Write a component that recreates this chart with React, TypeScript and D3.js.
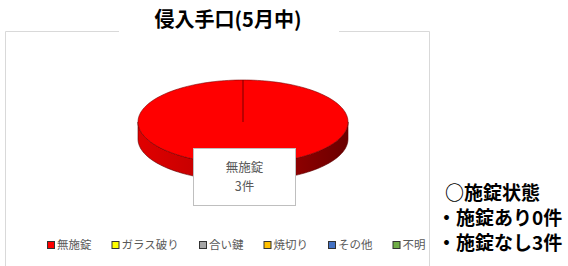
import * as d3 from "d3";
import { useEffect, useRef } from "react";

const categories = ["無施錠", "ガラス破り", "合い鍵", "焼切り", "その他", "不明"];
const counts = [3, 0, 0, 0, 0, 0];
const colors = ["#ff0000", "#ffff00", "#a6a6a6", "#ffc000", "#4472c4", "#70ad47"];
const title = "侵入手口(5月中)";
const lockHead = "○施錠状態";
const lockLines = ["施錠あり0件", "施錠なし3件"];

export default function App() {
  const ref = useRef<SVGSVGElement>(null);

  useEffect(() => {
    const W = 568, H = 266;
    const svg = d3.select(ref.current);
    svg.selectAll("*").remove();
    svg.attr("width", W).attr("height", H);

    const font = "'Noto Sans CJK JP', 'Noto Sans', sans-serif";

    // frame with a gap behind the title
    const frame = svg.append("g").attr("stroke", "#d9d9d9").attr("fill", "none");
    frame.append("path").attr("d", "M119,31.5 H5.5 V270");
    frame.append("path").attr("d", "M339,31.5 H429.5 V270");

    svg.append("text")
      .attr("x", 228).attr("y", 27)
      .attr("text-anchor", "middle")
      .attr("font-family", font).attr("font-weight", "bold").attr("font-size", 20)
      .attr("fill", "#000")
      .text(title);

    const color = d3.scaleOrdinal<string, string>().domain(categories).range(colors);

    // 3D pie
    const cx = 243, cy = 122, rx = 105, ry = 42, depth = 17;
    const pt = (a: number, dy = 0) => [cx + rx * Math.sin(a), cy - ry * Math.cos(a) + dy];
    const pie = d3.pie<number>().sort(null).value(d => d);
    const arcs = pie(counts).filter(d => d.value > 0);

    const defs = svg.append("defs");
    const grad = defs.append("linearGradient").attr("id", "side")
      .attr("x1", "0").attr("x2", "1").attr("y1", "0").attr("y2", "0");
    grad.append("stop").attr("offset", "0").attr("stop-color", "#e00000");
    grad.append("stop").attr("offset", "0.45").attr("stop-color", "#b80000");
    grad.append("stop").attr("offset", "1").attr("stop-color", "#6a0000");

    // side wall (front half)
    const front: number[][] = [];
    for (let a = Math.PI / 2; a <= 3 * Math.PI / 2 + 1e-9; a += Math.PI / 90) front.push(pt(a));
    const back = front.map(p => [p[0], p[1] + depth]).reverse();
    svg.append("path")
      .attr("d", d3.line()([...front, ...back] as [number, number][]) + "Z")
      .attr("fill", "url(#side)")
      .attr("stroke", "#5a0000").attr("stroke-width", 0.6);

    // top face
    arcs.forEach(d => {
      const pts: number[][] = [[cx, cy]];
      const n = Math.max(2, Math.ceil((d.endAngle - d.startAngle) / (Math.PI / 90)));
      for (let k = 0; k <= n; k++) pts.push(pt(d.startAngle + (d.endAngle - d.startAngle) * k / n));
      svg.append("path")
        .attr("d", d3.line()(pts as [number, number][]) + "Z")
        .attr("fill", color(categories[d.index]))
        .attr("stroke", "#7a0000").attr("stroke-width", 0.6);
    });

    // data label
    const lab = svg.append("g");
    lab.append("rect")
      .attr("x", 193.5).attr("y", 148.5).attr("width", 102).attr("height", 57)
      .attr("fill", "#fff").attr("stroke", "#bfbfbf");
    const top = d3.maxIndex(counts);
    lab.append("text")
      .attr("x", 244.5).attr("y", 172).attr("text-anchor", "middle")
      .attr("font-family", font).attr("font-size", 12.5).attr("fill", "#595959")
      .text(categories[top]);
    lab.append("text")
      .attr("x", 244.5).attr("y", 191).attr("text-anchor", "middle")
      .attr("font-family", font).attr("font-size", 12.5).attr("fill", "#595959")
      .text(`${counts[top]}件`);

    // legend
    const lg = svg.append("g").attr("font-family", font).attr("font-size", 11.5);
    let lx = 47;
    categories.forEach(c => {
      const g = lg.append("g").attr("transform", `translate(${lx},245)`);
      g.append("rect").attr("x", 0.5).attr("y", -3.5).attr("width", 7).attr("height", 7)
        .attr("fill", color(c)).attr("stroke", "#333");
      g.append("text").attr("x", 10).attr("y", 4).attr("fill", "#595959").text(c);
      lx += 10 + c.length * 11.5 + 20;
    });

    // lock status notes
    const notes = svg.append("g")
      .attr("font-family", font).attr("font-weight", "bold").attr("font-size", 19)
      .attr("fill", "#000");
    notes.append("text").attr("x", 445).attr("y", 200).text(lockHead);
    lockLines.forEach((s, i) => {
      const y = 225 + i * 25;
      notes.append("text").attr("x", 437).attr("y", y).text("・");
      notes.append("text").attr("x", 456).attr("y", y).text(s);
    });
  }, []);

  return (
    <svg ref={ref} style={{ position: "absolute", left: 0, top: 0 }} />
  );
}
